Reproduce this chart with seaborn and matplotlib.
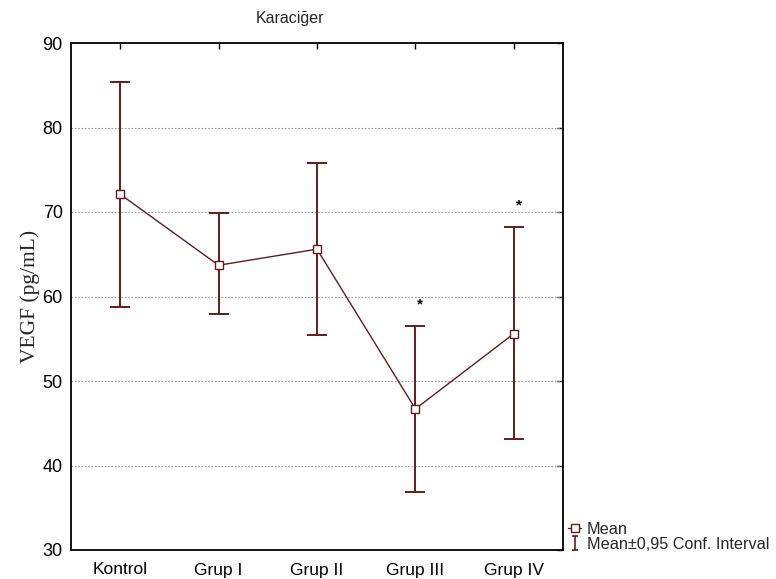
import matplotlib
matplotlib.use("Agg")
import matplotlib.pyplot as plt
import seaborn as sns
import pandas as pd
import numpy as np
from matplotlib.lines import Line2D
from matplotlib.path import Path

# ---- data ----
groups = ["Kontrol", "Grup I", "Grup II", "Grup III", "Grup IV"]
means = [72.1, 63.7, 65.6, 46.7, 55.6]
ci_upper = [85.4, 69.9, 75.8, 56.5, 68.2]
ci_lower = [58.8, 57.9, 55.5, 36.9, 43.1]
significance = ["", "", "", "*", "*"]
y_ticks = [30, 40, 50, 60, 70, 80, 90]

title = "Karaciğer"
y_label = "VEGF (pg/mL)"
legend_labels = ["Mean", "Mean±0,95 Conf. Interval"]

color = "#631c1c"

sns.set_style("white")
plt.rcParams["font.family"] = ["Liberation Sans", "DejaVu Sans"]

df = pd.DataFrame({"group": groups, "mean": means, "lo": ci_lower, "hi": ci_upper})

fig = plt.figure(figsize=(7.76, 5.79), dpi=100)
ax = fig.add_axes([71 / 776, 1 - 550 / 579, (563 - 71) / 776, (550 - 43) / 579])

sns.pointplot(data=df, x="group", y="mean", order=groups, errorbar=None,
              color=color, markers="s", linestyles="-", ax=ax,
              linewidth=1.0, markersize=6,
              markerfacecolor="white", markeredgecolor=color, markeredgewidth=1.0,
              zorder=4)

xpos = np.arange(len(groups))
yerr = np.vstack([df["mean"] - df["lo"], df["hi"] - df["mean"]])
ax.errorbar(xpos, df["mean"], yerr=yerr, fmt="none", ecolor=color,
            elinewidth=1.4, capsize=7.5, capthick=1.4, zorder=3)

for x, hi, s in zip(xpos, ci_upper, significance):
    if s:
        ax.text(x + 0.05, hi + 2.1, s, ha="center", va="baseline",
                fontsize=11, color="black", fontweight="bold")

ax.set_xlim(-0.5, len(groups) - 0.5)
ax.set_ylim(y_ticks[0], y_ticks[-1])
ax.set_yticks(y_ticks)
ax.set_xticks(xpos)
ax.set_xticklabels(groups)
ax.set_xlabel("")
ax.set_ylabel(y_label, family=["Liberation Serif", "DejaVu Serif"], fontsize=15.5, labelpad=2)

for t in y_ticks[1:-1]:
    ax.axhline(t, color="#999999", linestyle=(0, (1.5, 1.5)), linewidth=0.8, zorder=1)

for sp in ax.spines.values():
    sp.set_visible(True)
    sp.set_color("black")
    sp.set_linewidth(1.3)

ax.tick_params(direction="in", length=4, width=1, top=True, right=True,
               labelsize=13, pad=6, colors="black")
ax.tick_params(axis="x", labelsize=12.5, pad=9)

fig.text(290 / 776, 1 - 18 / 579, title, ha="center", va="center", fontsize=11.5)

# legend
ibeam = Path([(-0.5, 1), (0.5, 1), (0, 1), (0, -1), (-0.5, -1), (0.5, -1)],
             [Path.MOVETO, Path.LINETO, Path.MOVETO, Path.LINETO, Path.MOVETO, Path.LINETO])
h_mean = Line2D([], [], color=color, marker="s", markersize=5.5, markerfacecolor="white",
                markeredgecolor=color, linestyle="-", linewidth=1.0)
h_ci = Line2D([], [], linestyle="none", marker=ibeam, markersize=10,
              markerfacecolor="none", markeredgecolor=color, markeredgewidth=1.2)
leg = fig.legend([h_mean, h_ci], legend_labels, loc="upper left",
                 bbox_to_anchor=(568 / 776, 1 - 522 / 579), frameon=False,
                 fontsize=11.7, handlelength=0.8, handletextpad=0.35,
                 labelspacing=0.0, borderaxespad=0, borderpad=0)

fig.savefig("out.png", dpi=100)
